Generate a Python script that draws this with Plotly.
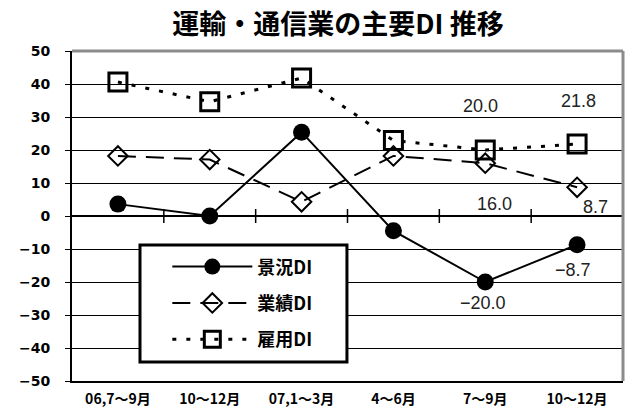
import plotly.graph_objects as go

categories = ["06,7～9月", "10～12月", "07,1～3月", "4～6月", "7～9月", "10～12月"]
keikyo = [3.6, 0.0, 25.4, -4.5, -20.0, -8.7]
gyoseki = [18.2, 17.1, 4.3, 18.2, 16.0, 8.7]
koyo = [40.6, 34.6, 41.8, 22.9, 20.0, 21.8]
y_ticks = [50, 40, 30, 20, 10, 0, -10, -20, -30, -40, -50]

xs = list(range(len(categories)))
FONT = "Noto Sans CJK JP"

def fmt(v):
    return f"{v:.1f}".replace("-", "−")

fig = go.Figure()
fig.add_trace(go.Scatter(x=xs, y=keikyo, name="<b>景況DI</b>", mode="lines+markers",
                         legendgroup="a",
                         line=dict(color="black", width=2),
                         marker=dict(symbol="circle", size=17, color="black")))
fig.add_trace(go.Scatter(x=xs, y=gyoseki, name="<b>業績DI</b>", mode="lines+markers",
                         legendgroup="b",
                         line=dict(color="black", width=2, dash="18px,10px"),
                         marker=dict(symbol="diamond-open", size=15, color="black",
                                     line=dict(width=2, color="black"))))
fig.add_trace(go.Scatter(x=xs, y=koyo, name="<b>雇用DI</b>", mode="lines+markers",
                         legendgroup="c",
                         line=dict(color="black", width=3, dash="4px,10px"),
                         marker=dict(symbol="square-open", size=18, color="black",
                                     line=dict(width=3, color="black"))))
# category boundary tick marks on the zero line
bounds = [i + 0.5 for i in xs[:-1]]
fig.add_trace(go.Scatter(x=bounds, y=[0] * len(bounds), mode="markers", showlegend=False,
                         hoverinfo="skip",
                         marker=dict(symbol="line-ns-open", size=10, color="black",
                                     line=dict(width=1.5, color="black"))))

# data labels for the last two periods: (series, index, xshift, yshift)
lab_font = dict(family="Liberation Sans", size=18, color="#222")
label_specs = [
    (koyo, 4, -5, 44), (koyo, 5, 1, 43),
    (gyoseki, 4, 9, -41), (gyoseki, 5, 18, -20),
    (keikyo, 4, -2, -21), (keikyo, 5, -4, -25),
]
for series, i, dx, dy in label_specs:
    fig.add_annotation(x=xs[i], y=series[i], text=fmt(series[i]), showarrow=False,
                       xshift=dx, yshift=dy, font=lab_font)

# frame: gray top/right
fig.add_shape(type="line", xref="paper", yref="paper", x0=0, x1=1, y0=1, y1=1,
              line=dict(color="#8c8c8c", width=3))
fig.add_shape(type="line", xref="paper", yref="paper", x0=1, x1=1, y0=0, y1=1,
              line=dict(color="#8c8c8c", width=3))
# legend box
fig.add_shape(type="rect", xref="paper", yref="paper", x0=0.1234, x1=0.499, y0=0.0576, y1=0.412,
              fillcolor="white", line=dict(color="black", width=3), layer="above")

fig.update_layout(
    width=628, height=410,
    margin=dict(l=72, r=5, t=51, b=29, autoexpand=False),
    paper_bgcolor="white", plot_bgcolor="white",
    title=dict(text="<b>運輸・通信業の主要DI 推移</b>", x=338 / 628, xanchor="center",
               y=1 - 24.5 / 410, yanchor="middle",
               font=dict(family=FONT, size=27, color="black")),
    xaxis=dict(range=[-0.5, 5.5], tickmode="array", tickvals=xs,
               ticktext=[f"<b>{c}</b>" for c in categories], automargin=False,
               showgrid=False, zeroline=False, showline=True, linecolor="black", linewidth=2,
               ticks="outside", ticklen=4, tickcolor="rgba(0,0,0,0)",
               tickfont=dict(family=FONT, size=14, color="black")),
    yaxis=dict(range=[-50, 50], tickmode="array", tickvals=y_ticks, automargin=False,
               ticktext=[f"<b>{v}</b>".replace("-", "−") for v in y_ticks],
               showgrid=True, gridcolor="black", gridwidth=1,
               zeroline=True, zerolinecolor="black", zerolinewidth=2,
               showline=True, linecolor="black", linewidth=2,
               ticks="outside", ticklen=5, tickcolor="black", ticklabelstandoff=12,
               tickfont=dict(family="DejaVu Sans", size=14, color="black")),
    legend=dict(x=0.173, y=0.402, xanchor="left", yanchor="top",
                bgcolor="rgba(0,0,0,0)", borderwidth=0,
                font=dict(family=FONT, size=18, color="black"),
                itemwidth=80, traceorder="grouped", tracegroupgap=10),
    showlegend=True,
)

fig.write_html("out.html", config={"displayModeBar": False},
               post_script="document.body.style.margin='0';")
